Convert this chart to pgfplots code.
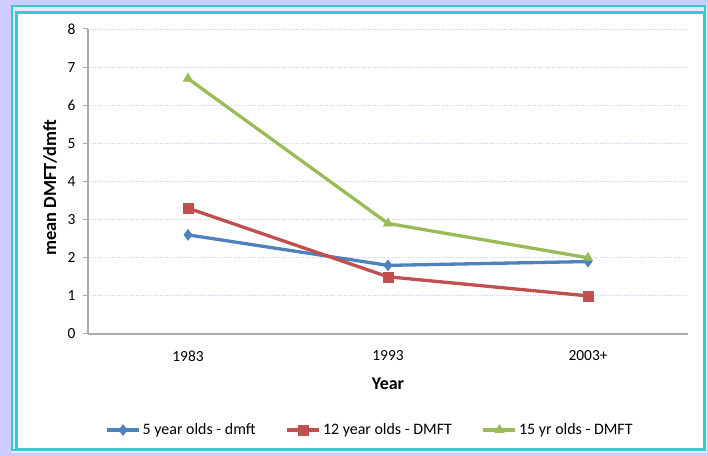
\documentclass[border=0pt]{standalone}
\usepackage{fontspec}
\setmainfont{Carlito}
\usepackage{pgfplots}
\pgfplotsset{compat=1.18}
\definecolor{bgl}{RGB}{204,204,255}
\definecolor{bglt}{RGB}{232,232,255}
\definecolor{frm}{RGB}{51,204,204}
\definecolor{s1}{RGB}{79,129,189}
\definecolor{s2}{RGB}{192,80,77}
\definecolor{s3}{RGB}{155,187,89}
\definecolor{gridc}{RGB}{200,208,242}
\definecolor{axc}{RGB}{170,170,170}
\begin{document}
\begin{tikzpicture}[x=1bp,y=1bp]
\fill[bgl] (0,0) rectangle (708,456);
\fill[bglt] (11,3) rectangle (707,451);
\draw[frm, line width=2bp] (12,6) rectangle (705,450);
\draw[frm, line width=3bp, fill=white] (16.5,6.5) rectangle (704.5,443.5);
\begin{axis}[
  scale only axis,
  width=600bp, height=305bp,
  at={(88bp,122bp)}, anchor=south west,
  xmin=-0.5, xmax=2.5, ymin=0, ymax=8,
  axis x line*=bottom, axis y line*=left,
  axis line style={axc, line width=1.2bp, -},
  xtick={0,1,2}, xticklabels={1983,1993,2003+},
  x tick style={draw=none},
  ytick={0,1,...,8},
  y tick style={axc, line width=1bp},
  tick align=outside,
  major tick length=5bp,
  ymajorgrids,
  major grid style={gridc, dotted, line width=0.8bp},
  /pgf/number format/assume math mode=true,
  tick label style={font=\fontsize{15.5}{18}\selectfont, text=black},
  yticklabel style={xshift=-4bp},
  xticklabel style={yshift=-8bp},
  xlabel={\textbf{Year}},
  xlabel style={font=\fontsize{18}{20}\selectfont, at={(axis description cs:0.5,-0.164)}, anchor=center},
  ylabel={\textbf{mean DMFT/dmft}},
  ylabel style={font=\fontsize{18.5}{21}\selectfont, at={(axis description cs:-0.063,0.48)}, anchor=center, rotate=0},
  legend columns=3,
  legend style={draw=none, fill=none, font=\fontsize{16}{18}\selectfont,
    at={(axis description cs:0.47,-0.315)}, anchor=center,
    /tikz/every even column/.append style={column sep=28bp}},
  legend image code/.code={
    \draw[#1, mark=none] (0bp,0bp) -- (32bp,0bp);
    \draw[#1, only marks] plot coordinates {(16bp,0bp)};
  },
]
\addplot[s1, line width=3.3bp, mark=diamond*, mark size=5.5bp, mark options={solid, fill=s1, line width=0.5bp}]
  coordinates {(0,2.6) (1,1.8) (2,1.9)};
\addlegendentry{5 year olds - dmft}
\addplot[s2, line width=3.3bp, mark=square*, mark size=5bp, mark options={solid, fill=s2, line width=0.5bp}]
  coordinates {(0,3.3) (1,1.5) (2,1.0)};
\addlegendentry{12 year olds - DMFT}
\addplot[s3, line width=3.3bp, mark=triangle*, mark size=5.5bp, mark options={solid, fill=s3, line width=0.5bp}]
  coordinates {(0,6.7) (1,2.9) (2,2.0)};
\addlegendentry{15 yr olds - DMFT}
\end{axis}
\end{tikzpicture}
\end{document}
